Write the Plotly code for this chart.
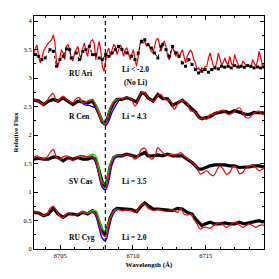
import numpy as np
import plotly.graph_objects as go

# ---------------- data ----------------
LI_WAVE = 6708.1

# observed spectra (black) on a shared wavelength list
wave_obs = [6703.18, 6703.52, 6703.86, 6704.19, 6704.53, 6704.86, 6705.20, 6705.54, 6705.87,
            6706.21, 6706.55, 6706.88, 6707.22, 6707.44, 6707.67, 6707.89, 6708.05, 6708.23,
            6708.45, 6708.68, 6708.90, 6709.24, 6709.57, 6709.91, 6710.25, 6710.58, 6710.81,
            6711.03, 6711.37, 6711.71, 6712.04, 6712.38, 6712.72, 6713.05, 6713.39, 6713.72,
            6714.06, 6714.29, 6714.51, 6714.73, 6714.96, 6715.29, 6715.63, 6715.97, 6716.30,
            6716.64, 6716.98, 6717.31, 6717.65, 6717.99, 6718.32, 6718.66, 6718.99]

rcen_obs = [2.613, 2.596, 2.537, 2.596, 2.625, 2.596, 2.654, 2.596, 2.537, 2.596, 2.578, 2.567,
            2.596, 2.508, 2.370, 2.230, 2.210, 2.270, 2.450, 2.567, 2.625, 2.625, 2.654, 2.625,
            2.578, 2.741, 2.730, 2.654, 2.596, 2.712, 2.637, 2.637, 2.520, 2.567, 2.613, 2.537,
            2.450, 2.403, 2.322, 2.287, 2.304, 2.322, 2.380, 2.403, 2.415, 2.392, 2.427, 2.403,
            2.368, 2.363, 2.398, 2.392, 2.392]

svcas_obs = [1.576, 1.594, 1.576, 1.576, 1.617, 1.606, 1.547, 1.606, 1.576, 1.606, 1.576, 1.576,
             1.606, 1.576, 1.373, 1.169, 1.110, 1.198, 1.460, 1.606, 1.635, 1.635, 1.664, 1.635,
             1.617, 1.664, 1.693, 1.635, 1.635, 1.652, 1.635, 1.664, 1.635, 1.635, 1.635, 1.576,
             1.518, 1.460, 1.402, 1.402, 1.431, 1.460, 1.477, 1.477, 1.477, 1.460, 1.460, 1.431,
             1.431, 1.442, 1.460, 1.460, 1.442]

rucyg_obs = [0.644, 0.632, 0.585, 0.614, 0.714, 0.614, 0.556, 0.614, 0.614, 0.597, 0.644, 0.614,
             0.673, 0.644, 0.469, 0.323, 0.265, 0.352, 0.556, 0.673, 0.714, 0.702, 0.702, 0.690,
             0.655, 0.760, 0.807, 0.760, 0.702, 0.702, 0.690, 0.673, 0.673, 0.714, 0.702, 0.644,
             0.614, 0.527, 0.469, 0.411, 0.440, 0.469, 0.440, 0.440, 0.457, 0.440, 0.440, 0.469,
             0.440, 0.457, 0.469, 0.498, 0.469]

# RU Ari observed (noisy)
wave_ruari_obs = [6703.29, 6703.52, 6703.74, 6703.97, 6704.30, 6704.53, 6704.75, 6704.98, 6705.20,
                  6705.43, 6705.65, 6705.76, 6706.10, 6706.32, 6706.55, 6706.77, 6707.00, 6707.22,
                  6707.44, 6707.67, 6707.89, 6708.12, 6708.34, 6708.57, 6708.79, 6709.01, 6709.24,
                  6709.58, 6709.91, 6710.14, 6710.36, 6710.58, 6710.81, 6711.03, 6711.26, 6711.48,
                  6711.71, 6711.93, 6712.04, 6712.27, 6712.49, 6712.72, 6712.94, 6713.16, 6713.39,
                  6713.61, 6713.84, 6714.06, 6714.29, 6714.51, 6714.73, 6714.96, 6715.18, 6715.41,
                  6715.63, 6715.86, 6716.08, 6716.30, 6716.53, 6716.75, 6716.98, 6717.20, 6717.43,
                  6717.65, 6717.87, 6718.10, 6718.32, 6718.55, 6718.77, 6718.99]
ruari_obs = [3.412, 3.383, 3.324, 3.353, 3.499, 3.470, 3.208, 3.324, 3.383, 3.511, 3.499, 3.353,
             3.441, 3.324, 3.470, 3.499, 3.557, 3.412, 3.412, 3.353, 3.324, 3.412, 3.383, 3.441,
             3.499, 3.557, 3.499, 3.441, 3.383, 3.324, 3.441, 3.645, 3.674, 3.586, 3.528, 3.441,
             3.353, 3.557, 3.586, 3.499, 3.383, 3.557, 3.441, 3.383, 3.266, 3.208, 3.324, 3.237,
             3.149, 3.091, 3.120, 3.149, 3.103, 3.149, 3.179, 3.161, 3.208, 3.190, 3.208, 3.179,
             3.219, 3.196, 3.208, 3.190, 3.219, 3.208, 3.179, 3.196, 3.179, 3.196]

# RU Ari synthetic (red), sampled every ~0.112 A from 6703.18 to 6719.00
wave_ruari_syn = np.linspace(6703.18, 6719.00, 142)
ruari_syn = [3.441, 3.528, 3.586, 3.383, 3.266, 3.353, 3.470, 3.528, 3.586, 3.616, 3.645, 3.674,
             3.761, 3.616, 3.266, 3.208, 3.353, 3.499, 3.441, 3.324, 3.557, 3.586, 3.499, 3.353,
             3.295, 3.441, 3.499, 3.557, 3.412, 3.324, 3.528, 3.616, 3.470, 3.383, 3.557, 3.645,
             3.674, 3.616, 3.324, 3.499, 3.645, 3.499, 3.208, 3.120, 3.266, 3.470, 3.528, 3.383,
             3.499, 3.586, 3.557, 3.412, 3.499, 3.586, 3.528, 3.383, 3.499, 3.528, 3.441, 3.324,
             3.412, 3.499, 3.324, 3.208, 3.383, 3.586, 3.674, 3.616, 3.645, 3.557, 3.616, 3.557,
             3.470, 3.441, 3.586, 3.674, 3.703, 3.586, 3.470, 3.616, 3.645, 3.557, 3.383, 3.324,
             3.470, 3.557, 3.470, 3.383, 3.470, 3.353, 3.441, 3.499, 3.383, 3.266, 3.383, 3.441,
             3.499, 3.441, 3.324, 3.266, 3.149, 3.179, 3.120, 3.179, 3.149, 3.208, 3.208, 3.353,
             3.441, 3.324, 3.208, 3.179, 3.266, 3.441, 3.324, 3.237, 3.266, 3.353, 3.266, 3.237,
             3.383, 3.266, 3.208, 3.412, 3.324, 3.266, 3.179, 3.208, 3.295, 3.266, 3.208, 3.237,
             3.208, 3.179, 3.324, 3.266, 3.208, 3.295, 3.470, 3.353, 3.208, 3.266]

# synthetic spectra (red) for the Li stars, sampled every ~0.224 A
wave_syn = np.linspace(6703.18, 6719.11, 72)
rcen_red = [2.625, 2.607, 2.578, 2.537, 2.596, 2.683, 2.730, 2.596, 2.637, 2.683, 2.625, 2.584,
            2.567, 2.642, 2.654, 2.567, 2.584, 2.607, 2.625, 2.508, 2.360, 2.230, 2.190, 2.360,
            2.530, 2.607, 2.625, 2.637, 2.660, 2.660, 2.625, 2.508, 2.625, 2.741, 2.741, 2.654,
            2.613, 2.596, 2.695, 2.712, 2.637, 2.613, 2.596, 2.450, 2.537, 2.613, 2.596, 2.567,
            2.421, 2.421, 2.363, 2.275, 2.304, 2.275, 2.363, 2.363, 2.403, 2.421, 2.438, 2.380,
            2.363, 2.392, 2.450, 2.479, 2.392, 2.304, 2.304, 2.363, 2.403, 2.421, 2.363, 2.363]
svcas_red = [1.606, 1.635, 1.594, 1.582, 1.606, 1.693, 1.750, 1.606, 1.571, 1.617, 1.635, 1.606,
             1.547, 1.606, 1.635, 1.635, 1.617, 1.617, 1.635, 1.547, 1.314, 1.110, 1.081, 1.314,
             1.547, 1.629, 1.646, 1.635, 1.652, 1.652, 1.635, 1.576, 1.635, 1.751, 1.769, 1.664,
             1.576, 1.617, 1.780, 1.722, 1.664, 1.646, 1.664, 1.658, 1.664, 1.693, 1.641, 1.594,
             1.547, 1.489, 1.431, 1.314, 1.343, 1.373, 1.314, 1.285, 1.373, 1.460, 1.402, 1.314,
             1.343, 1.442, 1.431, 1.326, 1.343, 1.431, 1.460, 1.477, 1.431, 1.373, 1.402, 1.431]
rucyg_red = [0.644, 0.655, 0.609, 0.585, 0.614, 0.714, 0.749, 0.673, 0.574, 0.556, 0.614, 0.632,
             0.585, 0.603, 0.632, 0.655, 0.626, 0.632, 0.655, 0.614, 0.440, 0.265, 0.224, 0.440,
             0.614, 0.690, 0.696, 0.673, 0.684, 0.684, 0.673, 0.644, 0.702, 0.772, 0.789, 0.714,
             0.684, 0.679, 0.702, 0.684, 0.667, 0.655, 0.690, 0.673, 0.644, 0.714, 0.614, 0.597,
             0.614, 0.527, 0.440, 0.352, 0.381, 0.381, 0.364, 0.411, 0.440, 0.457, 0.422, 0.381,
             0.411, 0.457, 0.469, 0.422, 0.381, 0.411, 0.440, 0.411, 0.381, 0.411, 0.422, 0.399]

# other Li abundances (green, blue) around the Li line
wave_li = np.linspace(6706.32, 6709.01, 13)
rcen_green = [2.654, 2.567, 2.584, 2.607, 2.625, 2.537, 2.420, 2.250, 2.210, 2.380, 2.550, 2.613, 2.625]
rcen_blue = [2.625, 2.555, 2.526, 2.520, 2.497, 2.480, 2.360, 2.220, 2.170, 2.250, 2.400, 2.508, 2.596]
svcas_green = [1.635, 1.635, 1.617, 1.635, 1.664, 1.635, 1.402, 1.169, 1.139, 1.373, 1.576, 1.635, 1.646]
svcas_blue = [1.635, 1.635, 1.617, 1.606, 1.606, 1.518, 1.285, 1.081, 1.040, 1.198, 1.489, 1.606, 1.635]
rucyg_green = [0.632, 0.655, 0.626, 0.644, 0.673, 0.673, 0.527, 0.352, 0.306, 0.469, 0.614, 0.690, 0.696]
rucyg_blue = [0.632, 0.655, 0.626, 0.632, 0.644, 0.585, 0.381, 0.189, 0.148, 0.352, 0.574, 0.673, 0.696]

# labels: (text, wavelength, flux)
star_labels = [("RU Ari", 6705.46, 3.086), ("R Cen", 6705.46, 2.33),
               ("SV Cas", 6705.46, 1.180), ("RU Cyg", 6705.46, 0.201)]
li_labels = [("Li &lt; -2.0", 6709.13, 3.156), ("(No Li)", 6709.24, 2.928),
             ("Li = 4.3", 6709.13, 2.33), ("Li = 3.5", 6709.13, 1.180),
             ("Li = 2.0", 6709.13, 0.201)]

# ---------------- figure ----------------
fig = go.Figure()

for obs in (rcen_obs, svcas_obs, rucyg_obs):
    fig.add_trace(go.Scatter(x=wave_obs, y=obs, mode="lines",
                             line=dict(color="black", width=3.2), hoverinfo="skip"))
for syn_b, syn_g in ((rcen_blue, rcen_green), (svcas_blue, svcas_green), (rucyg_blue, rucyg_green)):
    fig.add_trace(go.Scatter(x=wave_li, y=syn_b, mode="lines", line=dict(color="blue", width=1.4, shape="spline")))
    fig.add_trace(go.Scatter(x=wave_li, y=syn_g, mode="lines", line=dict(color="#00dd00", width=1.4, shape="spline")))
for red in (rcen_red, svcas_red, rucyg_red):
    fig.add_trace(go.Scatter(x=wave_syn, y=red, mode="lines",
                             line=dict(color="red", width=1.2, shape="spline")))

fig.add_trace(go.Scatter(x=wave_ruari_syn, y=ruari_syn, mode="lines",
                         line=dict(color="red", width=1.2)))
fig.add_trace(go.Scatter(x=wave_ruari_obs, y=ruari_obs, mode="lines+markers",
                         line=dict(color="black", width=1, dash="dot"),
                         marker=dict(color="black", size=3, symbol="square")))

fig.add_vline(x=LI_WAVE, line=dict(color="black", width=1.1, dash="4px,3px"))

font_lbl = dict(family="Liberation Serif, serif", size=7.5, color="black")
for txt, xw, yv in star_labels + li_labels:
    fig.add_annotation(x=xw, y=yv, text="<b>" + txt + "</b>", showarrow=False,
                       xanchor="left", yanchor="middle", font=font_lbl)

axis_common = dict(showline=True, linecolor="black", linewidth=1, mirror="ticks",
                   ticks="inside", ticklen=4, tickwidth=1, tickcolor="black",
                   showgrid=False, zeroline=False,
                   tickfont=dict(family="Liberation Serif, serif", size=6.5, color="black"))

fig.update_xaxes(range=[6703.2, 6719.0], tick0=6705, dtick=5,
                 minor=dict(ticks="inside", ticklen=2, dtick=1, tick0=6705, tickcolor="black"),
                 title=dict(text="<b>Wavelength (Å)</b>", standoff=4,
                            font=dict(family="Liberation Serif, serif", size=7, color="black")),
                 **axis_common)
fig.update_yaxes(range=[0, 4.09], tick0=0, dtick=0.5,
                 minor=dict(ticks="inside", ticklen=2, dtick=0.25, tick0=0, tickcolor="black"),
                 title=dict(text="<b>Relative Flux</b>", standoff=4,
                            font=dict(family="Liberation Serif, serif", size=7, color="black")),
                 **axis_common)

# the page body adds an 8px margin, so the figure is 271px with compensated margins
fig.update_layout(width=271, height=271, margin=dict(l=22, r=15, t=7, b=30),
                  plot_bgcolor="white", paper_bgcolor="white", showlegend=False)

fig.write_html("out.html")
